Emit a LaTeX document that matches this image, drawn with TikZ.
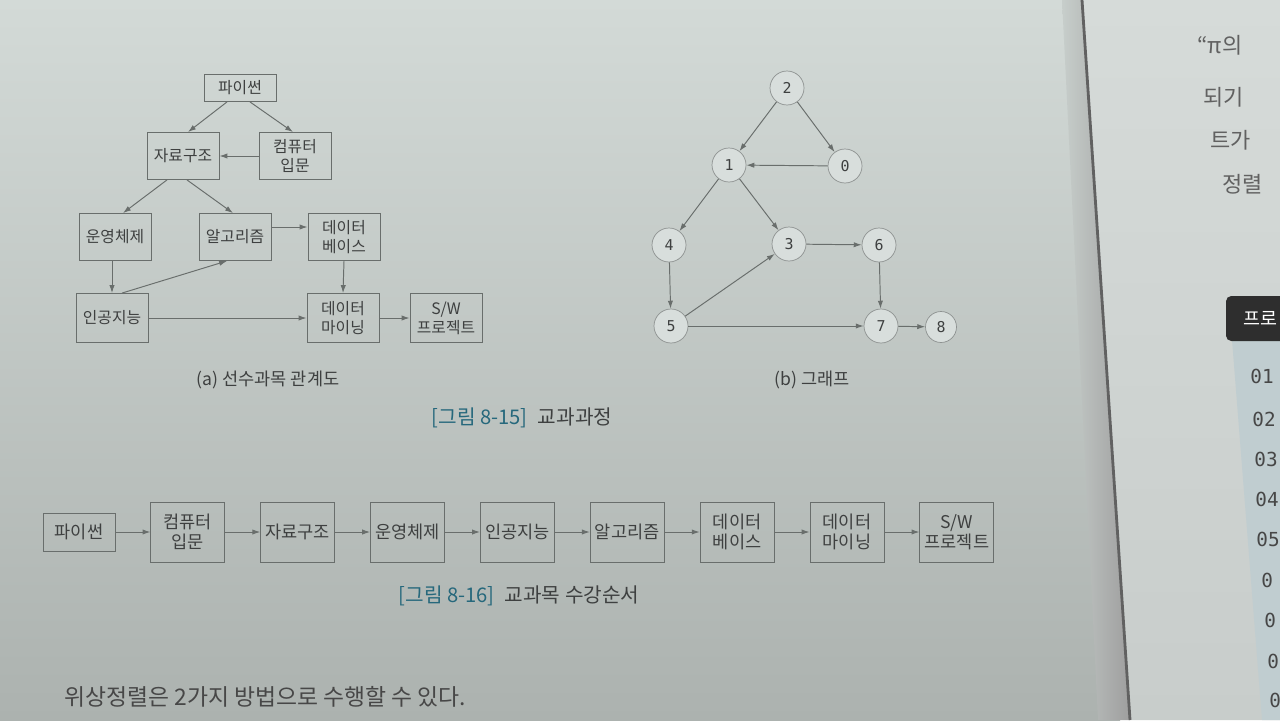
\documentclass[tikz,border=0pt]{standalone}
\usepackage{fontspec}
\setmainfont{Noto Sans CJK KR}
\newfontfamily\numfont{DejaVu Sans Mono}
\usetikzlibrary{positioning,calc,arrows.meta}
\definecolor{pagetop}{RGB}{211,218,215}
\definecolor{pagebot}{RGB}{172,178,175}
\definecolor{rightpg}{RGB}{214,219,217}
\definecolor{rightbot}{RGB}{200,205,203}
\definecolor{ink}{RGB}{62,64,64}
\definecolor{edge}{RGB}{105,110,108}
\definecolor{vfill}{RGB}{216,222,220}
\definecolor{figblue}{RGB}{38,104,124}
\definecolor{panel}{RGB}{192,205,208}

\begin{document}
\begin{tikzpicture}[
    x=0.02cm,y=-0.02cm,
    font=\fontsize{9}{11}\selectfont,
    every node/.style={text=ink},
    base/.style={rectangle,draw=edge,line width=0.5pt,align=center,inner sep=1pt},
    prebox/.style={base,minimum width=1.44cm,minimum height=0.94cm},
    seqbox/.style={base,minimum width=1.48cm,minimum height=1.2cm,font=\fontsize{10}{11.5}\selectfont},
    vertex/.style={circle,draw=edge!75,fill=vfill,minimum size=0.68cm,inner sep=0pt,font=\numfont\fontsize{8.5}{10}\selectfont},
    link/.style={draw=edge,line width=0.55pt,-{Latex[length=4.5pt,width=3pt]}},
    caption/.style={font=\fontsize{10}{12}\selectfont},
    figcap/.style={font=\fontsize{11.5}{14}\selectfont},
    sidetext/.style={anchor=west,inner sep=0pt,text=black!62,font=\fontsize{12.5}{15}\selectfont},
    sidenum/.style={sidetext,text=black!72,font=\numfont\fontsize{11}{13}\selectfont}
  ]

  \useasboundingbox (0,0) rectangle (1280,720);
  \clip (0,0) rectangle (1280,720);

  \shade[top color=pagetop,bottom color=pagebot] (0,0) rectangle (1120,720);
  \shade[left color=pagetop!70!pagebot,right color=black!38] (1062,0) -- (1083,0) -- (1130,720) -- (1098,720) -- cycle;
  \shade[top color=rightpg,bottom color=rightbot] (1083,0) -- (1280,0) -- (1280,720) -- (1130,720) -- cycle;
  \draw[black!62,line width=1.6pt] (1082,0) -- (1130,720);

  \fill[panel] (1232,340) -- (1280,340) -- (1280,720) -- (1262,720) -- cycle;
  \fill[black!82,rounded corners=3pt] (1226,296) rectangle (1300,341);
  \node(r0) [sidetext,text=white,font=\fontsize{10.5}{13}\selectfont] at (1243,318) {프로};

  \node(r1) [sidetext] at (1197,45) {“π의};
  \node(r2) [sidetext] at (1203,97) {되기};
  \node(r3) [sidetext] at (1210,140) {트가};
  \node(r4) [sidetext] at (1222,184) {정렬};

  \node(n1) [sidenum] at (1250,376) {01};
  \node(n2) [sidenum] at (1252,419) {02};
  \node(n3) [sidenum] at (1254,459) {03};
  \node(n4) [sidenum] at (1255,499) {04};
  \node(n5) [sidenum] at (1256,539) {05};
  \node(n6) [sidenum] at (1261,580) {0};
  \node(n7) [sidenum] at (1264,620) {0};
  \node(n8) [sidenum] at (1267,661) {0};
  \node(n9) [sidenum] at (1269,700) {0};

  \node(a1) [prebox,minimum height=0.54cm] at (240,88) {파이썬};
  \node(a2) [prebox] at (183,156) {자료구조};
  \node(a3) [prebox] at (295,156) {컴퓨터\\입문};
  \node(a4) [prebox] at (115,237) {운영체제};
  \node(a5) [prebox] at (235,237) {알고리즘};
  \node(a6) [prebox] at (344,237) {데이터\\베이스};
  \node(a7) [prebox,minimum height=0.98cm] at (112,318) {인공지능};
  \node(a8) [prebox,minimum height=0.98cm] at (343,318) {데이터\\마이닝};
  \node(a9) [prebox,minimum height=0.98cm] at (446,318) {S/W\\프로젝트};

  \draw[link] ($(a1.south)+(-13,0)$) -- ($(a2.north)+(5,0)$);
  \draw[link] ($(a1.south)+(10,0)$) -- ($(a3.north)+(-2,0)$);
  \draw[link] (a3.west) -- (a2.east);
  \draw[link] ($(a2.south)+(-16,0)$) -- ($(a4.north)+(8,0)$);
  \draw[link] ($(a2.south)+(4,0)$) -- ($(a5.north)+(-2,0)$);
  \draw[link] ($(a5.east)+(0,-10)$) -- ($(a6.west)+(0,-10)$);
  \draw[link] (a4.south -| a7.north) -- (a7.north);
  \draw[link] ($(a7.north)+(10,0)$) -- ($(a5.south)+(-8,0)$);
  \draw[link] (a6.south) -- (a8.north);
  \draw[link] (a7.east) -- (a8.west);
  \draw[link] (a8.east) -- (a9.west);

  \node(t1) [caption] at (268,380) {(a) 선수과목 관계도};

  \node(v2) [vertex] at (787,88) {2};
  \node(v1) [vertex] at (729,165) {1};
  \node(v0) [vertex] at (845,166) {0};
  \node(v4) [vertex] at (669,245) {4};
  \node(v3) [vertex] at (789,244) {3};
  \node(v6) [vertex] at (879,245) {6};
  \node(v5) [vertex] at (671,326) {5};
  \node(v7) [vertex] at (881,326) {7};
  \node(v8) [vertex,minimum size=0.62cm] at (941,327) {8};

  \draw[link] (v2) -- (v1);
  \draw[link] (v2) -- (v0);
  \draw[link] (v0) -- (v1);
  \draw[link] (v1) -- (v4);
  \draw[link] (v1) -- (v3);
  \draw[link] (v4) -- (v5);
  \draw[link] (v5) -- (v3);
  \draw[link] (v3) -- (v6);
  \draw[link] (v6) -- (v7);
  \draw[link] (v5) -- (v7);
  \draw[link] (v7) -- (v8);

  \node(t2) [caption] at (812,380) {(b) 그래프};

  \node(t3) [figcap] at (522,418) {\textcolor{figblue}{[그림 8-15]}\enspace 교과과정};

  \node(c1) [seqbox,minimum height=0.76cm,minimum width=1.44cm] at (79,532) {파이썬};
  \node(c2) [seqbox,right=0.7cm of c1] {컴퓨터\\입문};
  \node(c3) [seqbox,right=0.7cm of c2] {자료구조};
  \node(c4) [seqbox,right=0.7cm of c3] {운영체제};
  \node(c5) [seqbox,right=0.7cm of c4] {인공지능};
  \node(c6) [seqbox,right=0.7cm of c5] {알고리즘};
  \node(c7) [seqbox,right=0.7cm of c6] {데이터\\베이스};
  \node(c8) [seqbox,right=0.7cm of c7] {데이터\\마이닝};
  \node(c9) [seqbox,right=0.7cm of c8] {S/W\\프로젝트};

  \draw[link] (c1.east) -- (c2.west);
  \draw[link] (c2.east) -- (c3.west);
  \draw[link] (c3.east) -- (c4.west);
  \draw[link] (c4.east) -- (c5.west);
  \draw[link] (c5.east) -- (c6.west);
  \draw[link] (c6.east) -- (c7.west);
  \draw[link] (c7.east) -- (c8.west);
  \draw[link] (c8.east) -- (c9.west);

  \node(t4) [figcap] at (519,596) {\textcolor{figblue}{[그림 8-16]}\enspace 교과목 수강순서};

  \node(t5) [anchor=west,text=black!72,font=\fontsize{13}{15}\selectfont] at (58,697) {위상정렬은 2가지 방법으로 수행할 수 있다.};

\end{tikzpicture}
\end{document}
